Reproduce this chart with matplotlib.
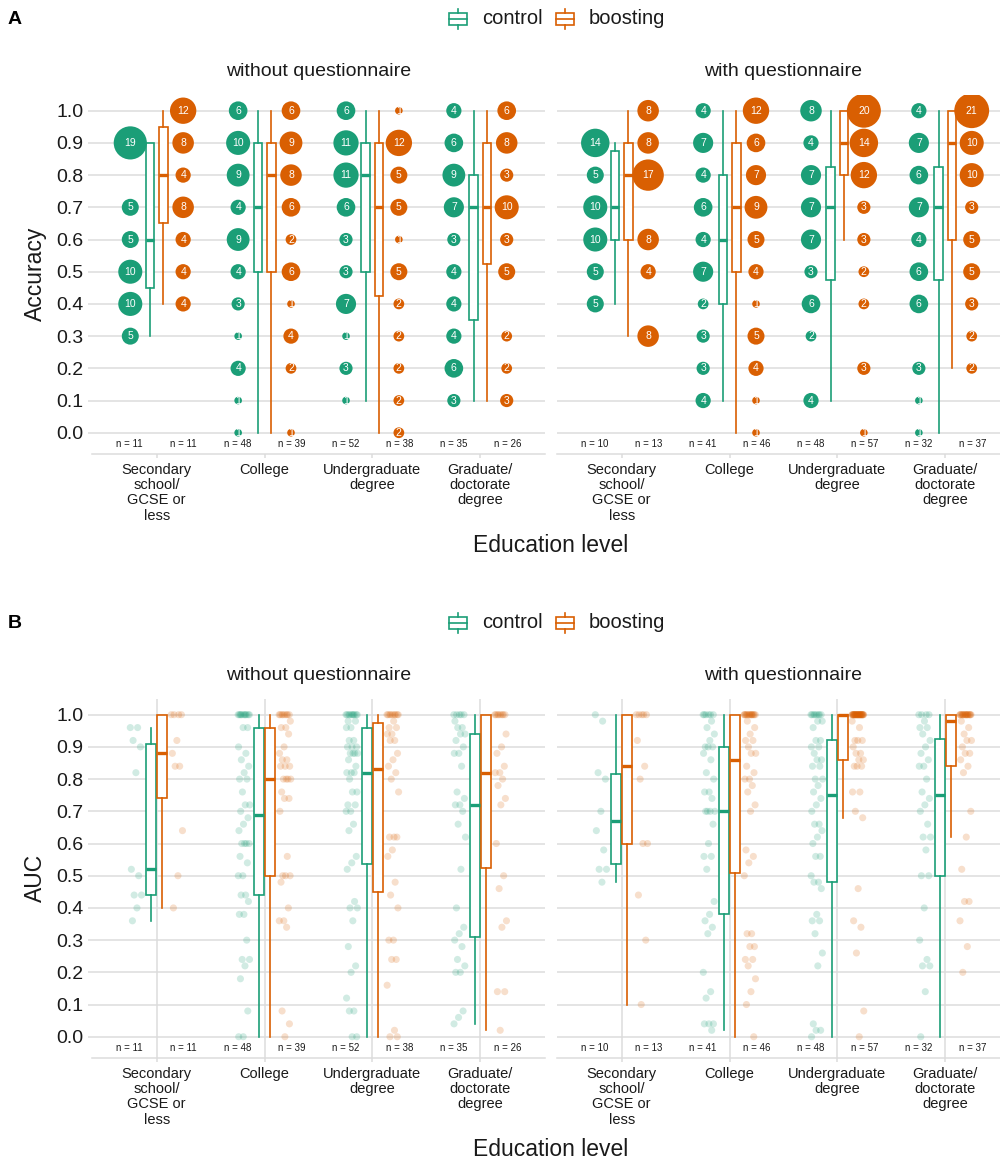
import numpy as np
import matplotlib
matplotlib.use("Agg")
import matplotlib.pyplot as plt
from matplotlib.patches import Rectangle
from matplotlib.lines import Line2D

plt.rcParams['font.family'] = ['Liberation Sans', 'DejaVu Sans']

# ---------------- data ----------------
education = ["Secondary\nschool/\nGCSE or\nless", "College",
             "Undergraduate\ndegree", "Graduate/\ndoctorate\ndegree"]
facets = ["without questionnaire", "with questionnaire"]
groups = ["control", "boosting"]
acc_levels = [0.0, 0.1, 0.2, 0.3, 0.4, 0.5, 0.6, 0.7, 0.8, 0.9, 1.0]
y_ticks = [0.0, 0.1, 0.2, 0.3, 0.4, 0.5, 0.6, 0.7, 0.8, 0.9, 1.0]

n_without_control = [11, 48, 52, 35]
n_without_boosting = [11, 39, 38, 26]
n_with_control = [10, 41, 48, 32]
n_with_boosting = [13, 46, 57, 37]

# Panel A: counts of each accuracy level (levels 0.0 ... 1.0)
acc_without_control = [
    [0, 0, 0, 5, 10, 10, 5, 5, 0, 19, 0],
    [1, 1, 4, 1, 3, 4, 9, 4, 9, 10, 6],
    [0, 1, 3, 1, 7, 3, 3, 6, 11, 11, 6],
    [0, 3, 6, 4, 4, 4, 3, 7, 9, 6, 4],
]
acc_without_boosting = [
    [0, 0, 0, 0, 4, 4, 4, 8, 4, 8, 12],
    [1, 0, 2, 4, 1, 6, 2, 6, 8, 9, 6],
    [2, 2, 2, 2, 2, 5, 1, 5, 5, 12, 1],
    [0, 3, 2, 2, 0, 5, 3, 10, 3, 8, 6],
]
acc_with_control = [
    [0, 0, 0, 0, 5, 5, 10, 10, 5, 14, 0],
    [0, 4, 3, 3, 2, 7, 4, 6, 4, 7, 4],
    [0, 4, 0, 2, 6, 3, 7, 7, 7, 4, 8],
    [1, 1, 3, 0, 6, 6, 4, 7, 6, 7, 4],
]
acc_with_boosting = [
    [0, 0, 0, 8, 0, 4, 8, 0, 17, 8, 8],
    [1, 1, 4, 5, 1, 4, 5, 9, 7, 6, 12],
    [1, 0, 3, 0, 2, 2, 3, 3, 12, 14, 20],
    [0, 0, 2, 2, 3, 5, 5, 3, 10, 10, 21],
]

# Panel A box statistics: (whisker low, q1, median, q3, whisker high)
accbox_without_control = [[0.3, 0.45, 0.6, 0.9, 0.9], [0.0, 0.5, 0.7, 0.9, 1.0],
                          [0.1, 0.5, 0.8, 0.9, 1.0], [0.1, 0.35, 0.7, 0.8, 1.0]]
accbox_without_boosting = [[0.4, 0.65, 0.8, 0.95, 1.0], [0.0, 0.5, 0.8, 0.9, 1.0],
                           [0.0, 0.425, 0.7, 0.9, 1.0], [0.1, 0.525, 0.7, 0.9, 1.0]]
accbox_with_control = [[0.4, 0.6, 0.7, 0.875, 0.9], [0.1, 0.4, 0.6, 0.8, 1.0],
                       [0.1, 0.475, 0.7, 0.825, 1.0], [0.0, 0.475, 0.7, 0.825, 1.0]]
accbox_with_boosting = [[0.3, 0.6, 0.8, 0.9, 1.0], [0.0, 0.5, 0.7, 0.9, 1.0],
                        [0.6, 0.8, 0.9, 1.0, 1.0], [0.2, 0.6, 0.9, 1.0, 1.0]]

# Panel B: individual AUC values
auc_without_control = [
    [0.96, 0.96, 0.92, 0.90, 0.82, 0.52, 0.50, 0.44, 0.44, 0.40, 0.36],
    [1.0] * 11 + [0.96, 0.96, 0.90, 0.88, 0.86, 0.84, 0.82, 0.80, 0.80, 0.76, 0.72, 0.72, 0.70, 0.68,
                  0.66, 0.64, 0.60, 0.60, 0.60, 0.60, 0.56, 0.54, 0.50, 0.50, 0.44, 0.44, 0.42, 0.38,
                  0.38, 0.30, 0.24, 0.24, 0.22, 0.18, 0.08, 0.0, 0.0],
    [1.0] * 10 + [0.98, 0.98, 0.96, 0.96, 0.92, 0.92, 0.90, 0.90, 0.90, 0.88, 0.88, 0.88, 0.88, 0.86,
                  0.84, 0.82, 0.82, 0.82, 0.80, 0.76, 0.76, 0.72, 0.72, 0.70, 0.70, 0.66, 0.64, 0.56,
                  0.54, 0.52, 0.42, 0.40, 0.40, 0.36, 0.28, 0.22, 0.20, 0.12, 0.08, 0.08, 0.0, 0.0],
    [1.0] * 5 + [0.98, 0.96, 0.96, 0.94, 0.94, 0.92, 0.90, 0.88, 0.88, 0.84, 0.76, 0.74, 0.72, 0.72,
                 0.70, 0.66, 0.62, 0.52, 0.40, 0.34, 0.32, 0.30, 0.28, 0.24, 0.22, 0.20, 0.20, 0.08,
                 0.06, 0.04],
]
auc_without_boosting = [
    [1.0, 1.0, 1.0, 1.0, 0.92, 0.88, 0.84, 0.84, 0.64, 0.50, 0.40],
    [1.0] * 8 + [0.98, 0.96, 0.96, 0.94, 0.90, 0.88, 0.86, 0.86, 0.84, 0.84, 0.84, 0.80, 0.80, 0.80,
                 0.80, 0.76, 0.74, 0.74, 0.70, 0.56, 0.50, 0.50, 0.50, 0.48, 0.40, 0.36, 0.36, 0.34,
                 0.08, 0.04, 0.0],
    [1.0] * 9 + [0.98, 0.96, 0.96, 0.94, 0.94, 0.92, 0.92, 0.88, 0.86, 0.84, 0.82, 0.80, 0.76, 0.62,
                 0.62, 0.62, 0.58, 0.56, 0.48, 0.44, 0.40, 0.30, 0.30, 0.24, 0.24, 0.16, 0.02, 0.0,
                 0.0],
    [1.0] * 8 + [0.94, 0.90, 0.88, 0.84, 0.82, 0.82, 0.80, 0.78, 0.74, 0.72, 0.60, 0.50, 0.46, 0.36,
                 0.34, 0.14, 0.14, 0.02],
]
auc_with_control = [
    [1.0, 0.98, 0.82, 0.80, 0.70, 0.64, 0.58, 0.52, 0.52, 0.48],
    [1.0] * 6 + [0.98, 0.96, 0.94, 0.92, 0.90, 0.90, 0.90, 0.88, 0.86, 0.82, 0.80, 0.76, 0.76, 0.74,
                 0.70, 0.70, 0.70, 0.70, 0.66, 0.60, 0.56, 0.56, 0.52, 0.42, 0.38, 0.36, 0.34, 0.32,
                 0.20, 0.14, 0.12, 0.04, 0.04, 0.04, 0.02],
    [1.0] * 8 + [0.98, 0.98, 0.96, 0.92, 0.92, 0.90, 0.90, 0.88, 0.86, 0.86, 0.84, 0.84, 0.80, 0.80,
                 0.78, 0.76, 0.74, 0.72, 0.70, 0.66, 0.66, 0.64, 0.62, 0.60, 0.56, 0.56, 0.50, 0.48,
                 0.48, 0.46, 0.38, 0.36, 0.36, 0.32, 0.26, 0.22, 0.04, 0.02, 0.02, 0.0],
    [1.0] * 4 + [0.98, 0.96, 0.96, 0.94, 0.92, 0.90, 0.88, 0.86, 0.84, 0.84, 0.80, 0.76, 0.74, 0.72,
                 0.70, 0.66, 0.62, 0.62, 0.58, 0.50, 0.50, 0.40, 0.30, 0.24, 0.22, 0.22, 0.14, 0.0],
]
auc_with_boosting = [
    [1.0] * 5 + [0.92, 0.84, 0.80, 0.60, 0.60, 0.44, 0.30, 0.10],
    [1.0] * 15 + [0.98, 0.96, 0.94, 0.92, 0.92, 0.90, 0.88, 0.88, 0.84, 0.82, 0.80, 0.80, 0.78, 0.76,
                  0.72, 0.70, 0.58, 0.56, 0.54, 0.50, 0.32, 0.32, 0.28, 0.28, 0.24, 0.24, 0.22, 0.18,
                  0.14, 0.10, 0.0],
    [1.0] * 34 + [0.98, 0.96, 0.92, 0.92, 0.92, 0.90, 0.88, 0.88, 0.86, 0.86, 0.84, 0.84, 0.84, 0.76,
                  0.76, 0.70, 0.68, 0.46, 0.36, 0.34, 0.26, 0.08, 0.0],
    [1.0] * 18 + [0.98, 0.96, 0.94, 0.92, 0.92, 0.90, 0.88, 0.88, 0.86, 0.84, 0.82, 0.70, 0.62, 0.52,
                  0.42, 0.42, 0.36, 0.28, 0.20],
]

# ---------------- style ----------------
GREEN = '#1B9E77'
ORANGE = '#D95F02'
GRID = '#DCDCDC'
TXT = '#1A1A1A'
colors = [GREEN, ORANGE]

W, H = 1000, 1160
fig = plt.figure(figsize=(W / 100, H / 100), dpi=100)


def px_axes(left, top, right, bottom):
    return fig.add_axes([left / W, 1 - bottom / H, (right - left) / W, (bottom - top) / H])


def style(ax, show_y, vgrid):
    ax.set_xlim(0.4, 4.6)
    ax.set_ylim(-0.066, 1.05)
    ax.set_yticks(y_ticks)
    ax.set_yticklabels([f"{v:.1f}" for v in y_ticks] if show_y else [])
    ax.set_xticks([1, 2, 3, 4])
    ax.set_xticklabels(education, fontsize=10.5, linespacing=1.12, color=TXT)
    ax.tick_params(axis='x', colors=GRID, length=3.2, width=1.1, pad=3, labelcolor=TXT)
    ax.tick_params(axis='y', colors=GRID, length=3.2 if show_y else 0, width=1.1, pad=3,
                   labelsize=14, labelcolor=TXT)
    ax.yaxis.grid(True, color=GRID, lw=1.1)
    if vgrid:
        ax.xaxis.grid(True, color=GRID, lw=1.1)
    else:
        ax.xaxis.grid(False)
    ax.set_axisbelow(True)
    for s in ['top', 'right', 'left']:
        ax.spines[s].set_visible(False)
    ax.spines['bottom'].set_color(GRID)
    ax.spines['bottom'].set_linewidth(1.1)


def draw_boxes(ax, stats_list, pos_off, width, color):
    stats = [dict(whislo=s[0], q1=s[1], med=s[2], q3=s[3], whishi=s[4], fliers=[]) for s in stats_list]
    ax.bxp(stats, positions=[i + 1 + pos_off for i in range(4)], widths=width,
           patch_artist=True, showcaps=False, showfliers=False, manage_ticks=False,
           boxprops=dict(facecolor='white', edgecolor=color, linewidth=1.2),
           medianprops=dict(color=color, linewidth=2.4, solid_capstyle='butt'),
           whiskerprops=dict(color=color, linewidth=1.2), zorder=3)


def n_labels(ax, nc, nb):
    for i in range(4):
        ax.text(i + 1 - 0.25, -0.035, f"n = {nc[i]}", fontsize=7, ha='center', va='center', color=TXT)
        ax.text(i + 1 + 0.25, -0.035, f"n = {nb[i]}", fontsize=7, ha='center', va='center', color=TXT)


# ---------------- Panel A ----------------
A_TOP, A_BOT = 94.6, 454
acc_data = [(acc_without_control, acc_without_boosting, accbox_without_control, accbox_without_boosting,
             n_without_control, n_without_boosting),
            (acc_with_control, acc_with_boosting, accbox_with_control, accbox_with_boosting,
             n_with_control, n_with_boosting)]
lefts = [(92, 545), (557, 1010)]
for f, (cc, cb, bc, bb, nc, nb) in enumerate(acc_data):
    ax = px_axes(lefts[f][0], A_TOP, lefts[f][1], A_BOT)
    for g, (counts, off) in enumerate([(cc, -0.245), (cb, 0.245)]):
        for i in range(4):
            for lvl, c in zip(acc_levels, counts[i]):
                if c > 0:
                    ax.scatter(i + 1 + off, lvl, s=30 * c, color=colors[g], edgecolors='none', zorder=4)
                    ax.text(i + 1 + off, lvl, str(c), fontsize=7.5, color='white', ha='center',
                            va='center', zorder=5)
    draw_boxes(ax, bc, -0.062, 0.08, GREEN)
    draw_boxes(ax, bb, 0.062, 0.08, ORANGE)
    n_labels(ax, nc, nb)
    style(ax, f == 0, False)

# ---------------- Panel B ----------------
OFF = 604
B_TOP, B_BOT = A_TOP + OFF, A_BOT + OFF
auc_data = [(auc_without_control, auc_without_boosting, n_without_control, n_without_boosting),
            (auc_with_control, auc_with_boosting, n_with_control, n_with_boosting)]
for f, (ac, ab, nc, nb) in enumerate(auc_data):
    ax = px_axes(lefts[f][0], B_TOP, lefts[f][1], B_BOT)
    for g, (vals, off, boff) in enumerate([(ac, -0.19, -0.052), (ab, 0.19, 0.052)]):
        for i in range(4):
            v = np.array(vals[i])
            jit = ((np.arange(len(v)) * 0.6180339887) % 1.0 - 0.5) * 0.11
            ax.scatter(i + 1 + off + jit, v, s=26, color=colors[g], alpha=0.2, edgecolors='none', zorder=2)
        ax.boxplot(vals, positions=[i + 1 + boff for i in range(4)], widths=0.09, whis=1.5,
                   patch_artist=True, showcaps=False, showfliers=False, manage_ticks=False,
                   boxprops=dict(facecolor='white', edgecolor=colors[g], linewidth=1.2),
                   medianprops=dict(color=colors[g], linewidth=2.4, solid_capstyle='butt'),
                   whiskerprops=dict(color=colors[g], linewidth=1.2), zorder=3)
    n_labels(ax, nc, nb)
    style(ax, f == 0, True)

# ---------------- annotations ----------------
ov = fig.add_axes([0, 0, 1, 1], facecolor='none')
ov.set_xlim(0, W)
ov.set_ylim(H, 0)
ov.axis('off')

for k, dy in enumerate([0, OFF]):
    ov.text(8, 19 + dy, "AB"[k], fontsize=14, fontweight='bold', ha='left', va='center', color='black')
    yc = 19 + dy
    for x0, lab, col in [(449, 'control', GREEN), (556, 'boosting', ORANGE)]:
        ov.add_patch(Rectangle((x0, yc - 6), 18, 12, fill=False, ec=col, lw=1.2))
        ov.add_line(Line2D([x0, x0 + 18], [yc, yc], color=col, lw=1.2))
        ov.add_line(Line2D([x0 + 9, x0 + 9], [yc - 10, yc - 6], color=col, lw=1.2))
        ov.add_line(Line2D([x0 + 9, x0 + 9], [yc + 6, yc + 10], color=col, lw=1.2))
        ov.text(x0 + 33, yc, lab, fontsize=14.5, ha='left', va='center', color=TXT)
    for f in range(2):
        ov.text((lefts[f][0] + lefts[f][1]) / 2, 72 + dy, facets[f], fontsize=14, ha='center',
                va='center', color=TXT)
    ov.text(551, 545 + dy, "Education level", fontsize=16.5, ha='center', va='center', color=TXT)
    ov.text(35, (A_TOP + A_BOT) / 2 + dy, "Accuracy" if k == 0 else "AUC", fontsize=16.5,
            rotation=90, ha='center', va='center', color=TXT)

fig.savefig("out.png", dpi=100)
